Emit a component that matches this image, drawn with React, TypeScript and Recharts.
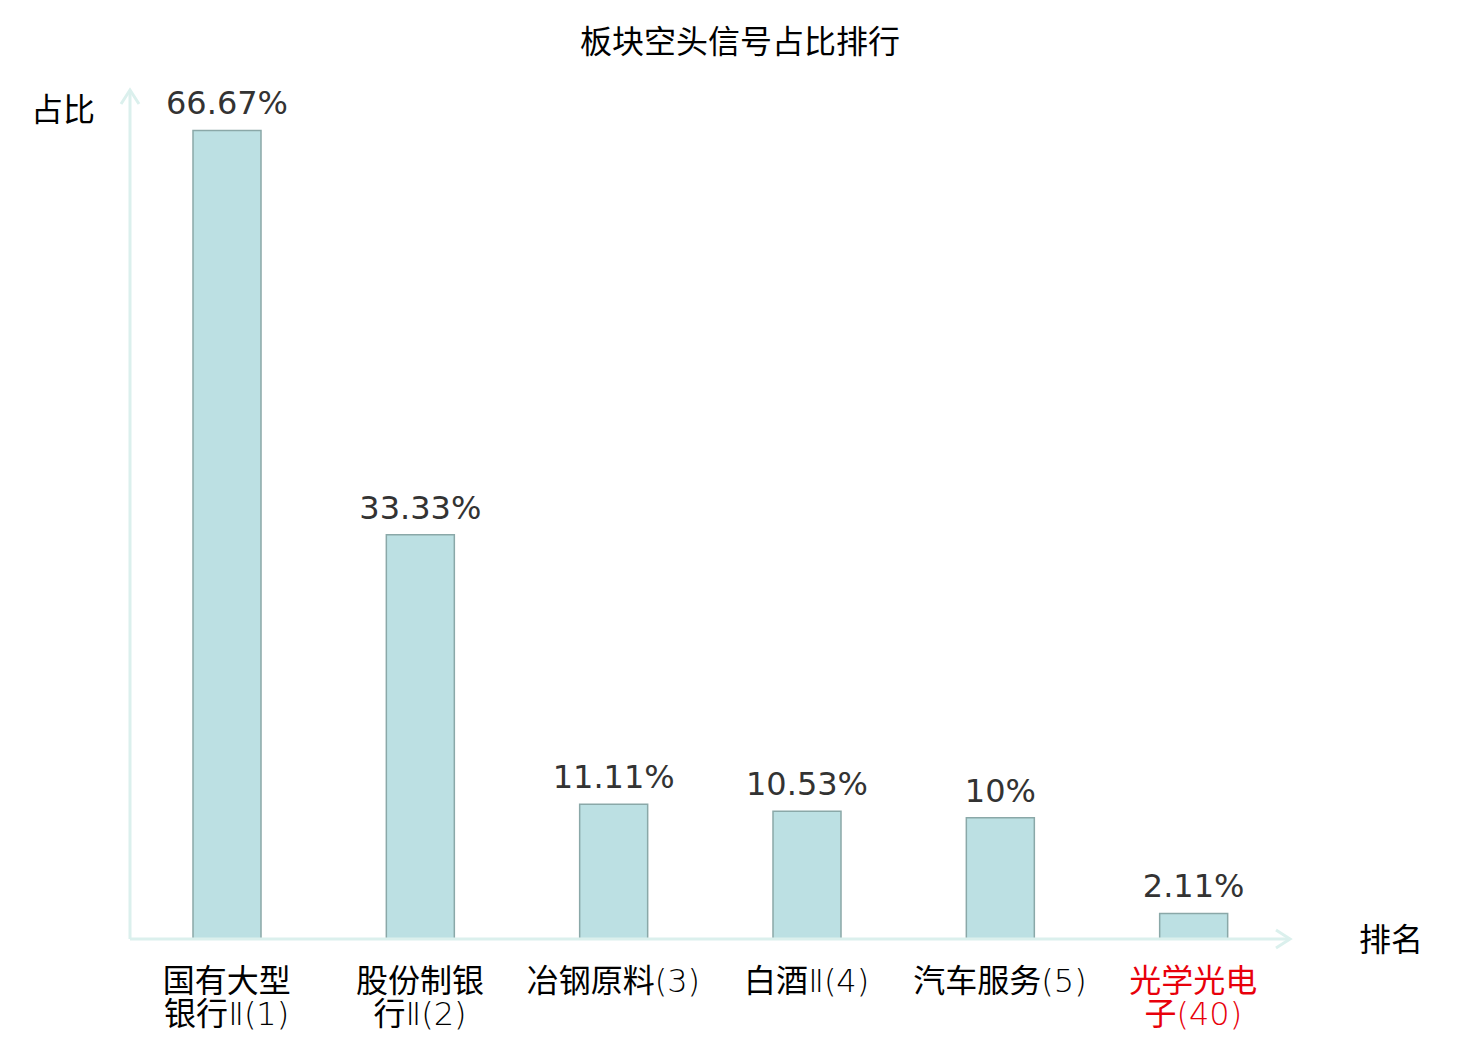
import React from 'react';
import { BarChart, Bar, XAxis, YAxis, LabelList } from 'recharts';

const categories = ['国有大型银行Ⅱ(1)', '股份制银行Ⅱ(2)', '冶钢原料(3)', '白酒Ⅱ(4)', '汽车服务(5)', '光学光电子(40)'];
const tickLines = [
  ['国有大型', '银行Ⅱ(1)'],
  ['股份制银', '行Ⅱ(2)'],
  ['冶钢原料(3)'],
  ['白酒Ⅱ(4)'],
  ['汽车服务(5)'],
  ['光学光电', '子(40)'],
];
const values = [66.67, 33.33, 11.11, 10.53, 10, 2.11];
const valueLabels = ['66.67%', '33.33%', '11.11%', '10.53%', '10%', '2.11%'];
const highlighted = [false, false, false, false, false, true];
const yDomain = [0, 70];

const data = categories.map((c, i) => ({ name: c, idx: i, value: values[i], label: valueLabels[i] }));

const FONT = '"DejaVu Sans", "Noto Sans CJK SC", sans-serif';
const CJK = '"Noto Sans CJK SC", sans-serif';
const AXIS = '#dbf0ed';

const splitRuns = (s: string) => {
  const runs: { t: string; cjk: boolean }[] = [];
  for (const ch of s) {
    const cjk = /[\u4e00-\u9fff]/.test(ch);
    const last = runs[runs.length - 1];
    if (last && last.cjk === cjk) last.t += ch;
    else runs.push({ t: ch, cjk });
  }
  return runs;
};

const Tick = (props: any) => {
  const { x, y, payload } = props;
  const i = payload.index;
  const lines = tickLines[i];
  return (
    <g>
      {lines.map((l, k) => (
        <text key={k} x={x} y={y + 45 + 33 * k} textAnchor="middle" fontFamily={FONT} fontSize={32} fill={highlighted[i] ? '#e8000b' : '#000'}>
          {splitRuns(l).map((r, j) => (
            <tspan key={j} fontWeight={r.cjk ? 400 : 200}>{r.t}</tspan>
          ))}
        </text>
      ))}
    </g>
  );
};

const XArrow = (props: any) => {
  const vb = props.viewBox || {};
  const x = vb.x + vb.width;
  const y = vb.y;
  return (
    <g>
      <polyline points={`${x - 14},${y - 9} ${x},${y} ${x - 14},${y + 9}`} fill="none" stroke={AXIS} strokeWidth={3} />
      <text x={x + 101} y={y + 12} textAnchor="middle" fontFamily={CJK} fontSize={32} fill="#000">排名</text>
    </g>
  );
};

const YArrow = (props: any) => {
  const vb = props.viewBox || {};
  const x = vb.x + vb.width;
  const y = vb.y;
  return (
    <g>
      <polyline points={`${x - 9},${y + 14} ${x},${y} ${x + 9},${y + 14}`} fill="none" stroke={AXIS} strokeWidth={3} />
      <text x={x - 67} y={y + 31} textAnchor="middle" fontFamily={CJK} fontSize={32} fill="#000">占比</text>
    </g>
  );
};

const ValueLabel = (props: any) => {
  const { x, y, width, index } = props;
  return (
    <text x={x + width / 2} y={y - 16} textAnchor="middle" fontFamily={FONT} fontSize={32} fill="#333">
      {valueLabels[index]}
    </text>
  );
};

export default function App() {
  return (
    <div style={{ position: 'absolute', left: 0, top: 0, width: 1480, height: 1040, background: '#fff' }}>
      <svg width={1480} height={1040} style={{ position: 'absolute', left: 0, top: 0 }}>
        <text x={740} y={53} textAnchor="middle" fontFamily={CJK} fontSize={32} fill="#000">板块空头信号占比排行</text>
      </svg>
      <div style={{ position: 'absolute', left: 0, top: 0 }}>
        <BarChart width={1480} height={1040} data={data} margin={{ top: 90, right: 190, bottom: 41, left: 120 }} barCategoryGap={0}>
          <XAxis
            dataKey="name"
            height={60}
            axisLine={{ stroke: AXIS, strokeWidth: 3 }}
            tickLine={false}
            tick={<Tick />}
            interval={0}
            label={<XArrow />}
          />
          <YAxis
            width={10}
            domain={yDomain}
            axisLine={{ stroke: AXIS, strokeWidth: 3 }}
            tickLine={false}
            tick={false}
            label={<YArrow />}
          />
          <Bar dataKey="value" barSize={68} fill="#bce0e3" stroke="#8aa8a8" strokeWidth={1.5} isAnimationActive={false}>
            <LabelList dataKey="label" content={<ValueLabel />} />
          </Bar>
        </BarChart>
      </div>
    </div>
  );
}
